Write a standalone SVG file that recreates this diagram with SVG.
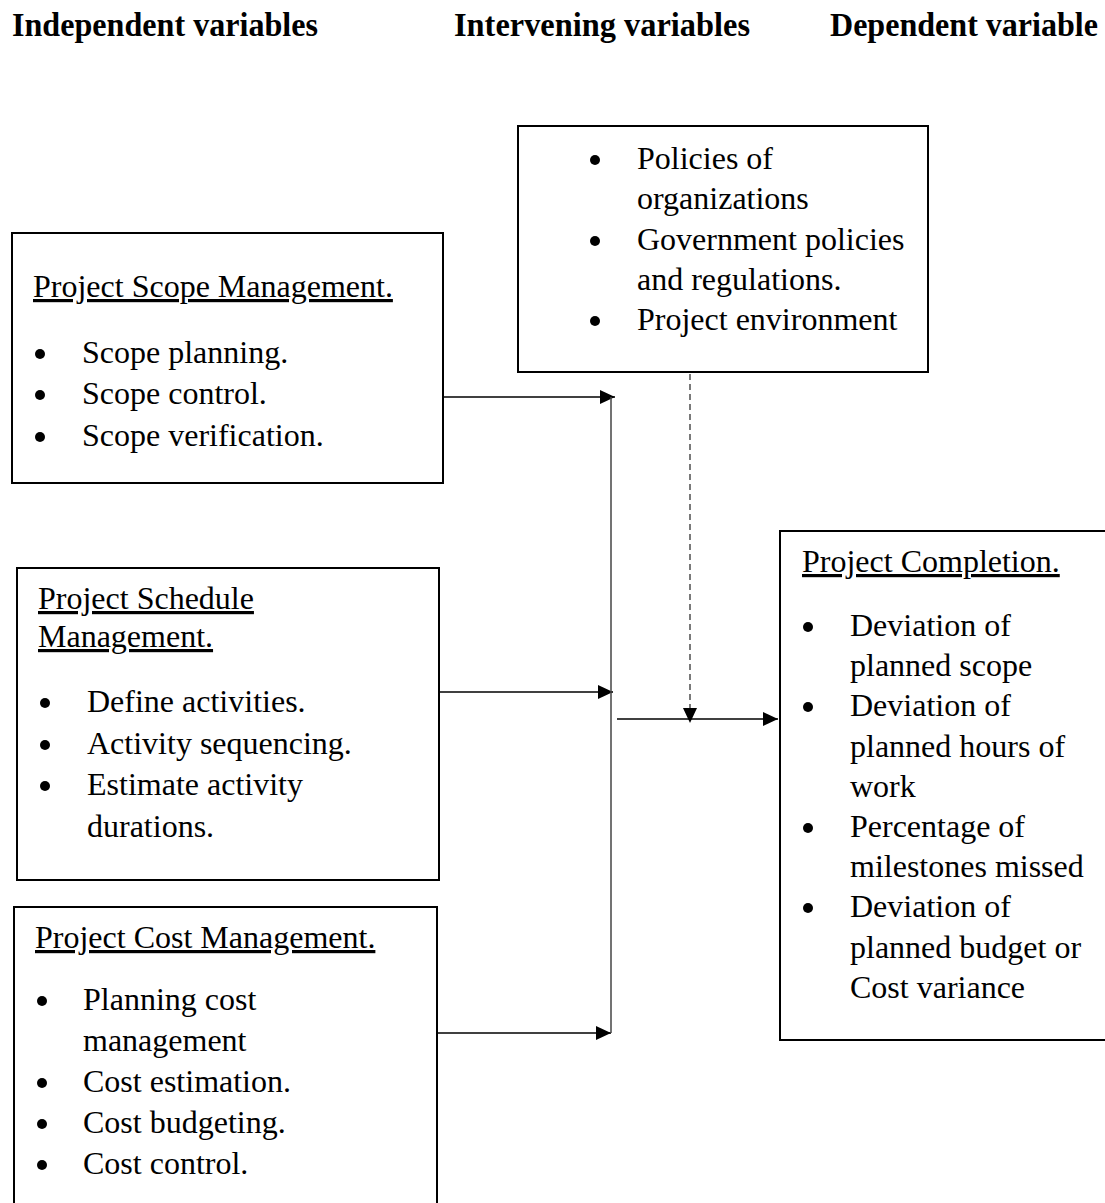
<svg xmlns="http://www.w3.org/2000/svg" width="1105" height="1203" viewBox="0 0 1105 1203">
<style>
text{font-family:"Liberation Serif","Times New Roman",serif;font-size:32px;fill:#000}
.hd{font-weight:bold;font-size:33px}
.ul{text-decoration:underline}
.box{fill:#fff;stroke:#000;stroke-width:2}
.bul{fill:#000}
.con{stroke:#000;stroke-width:1.5;fill:none}
.bus{stroke:#444;stroke-width:1.5;fill:none}
.dash{stroke:#333;stroke-width:1.3;stroke-dasharray:6 4;fill:none}
</style>
<defs>
<marker id="ah" markerUnits="userSpaceOnUse" markerWidth="16" markerHeight="16" refX="15" refY="7" orient="auto">
<path d="M0,0 L15,7 L0,14 z" fill="#000"/>
</marker>
</defs>
<rect width="1105" height="1203" fill="#fff"/>
<g id="headers">
<text class="hd" x="12" y="36" textLength="306" lengthAdjust="spacingAndGlyphs">Independent variables</text>
<text class="hd" x="454" y="36" textLength="296" lengthAdjust="spacingAndGlyphs">Intervening variables</text>
<text class="hd" x="830" y="36" textLength="268" lengthAdjust="spacingAndGlyphs">Dependent variable</text>
</g>
<g id="connectors">
<line class="con" x1="443" y1="397" x2="615" y2="397" marker-end="url(#ah)"/>
<line class="con" x1="440" y1="692" x2="613" y2="692" marker-end="url(#ah)"/>
<line class="con" x1="437" y1="1033" x2="611" y2="1033" marker-end="url(#ah)"/>
<line class="bus" x1="611" y1="397" x2="611" y2="1033"/>
<line class="con" x1="617" y1="719" x2="778" y2="719" marker-end="url(#ah)"/>
<line class="dash" x1="690" y1="374" x2="690" y2="723" marker-end="url(#ah)"/>
</g>
<g id="intervening">
<rect class="box" x="518" y="126" width="410" height="246"/>
<circle class="bul" cx="595" cy="160" r="5"/>
<circle class="bul" cx="595" cy="241" r="5"/>
<circle class="bul" cx="595" cy="321" r="5"/>
<text x="637" y="169">Policies of</text>
<text x="637" y="209">organizations</text>
<text x="637" y="250">Government policies</text>
<text x="637" y="290">and regulations.</text>
<text x="637" y="330">Project environment</text>
</g>
<g id="scope">
<rect class="box" x="12" y="233" width="431" height="250"/>
<text class="ul" x="33" y="297">Project Scope Management.</text>
<circle class="bul" cx="40" cy="354" r="5"/>
<circle class="bul" cx="40" cy="395" r="5"/>
<circle class="bul" cx="40" cy="437" r="5"/>
<text x="82" y="363">Scope planning.</text>
<text x="82" y="404">Scope control.</text>
<text x="82" y="446">Scope verification.</text>
</g>
<g id="schedule">
<rect class="box" x="17" y="568" width="422" height="312"/>
<text class="ul" x="38" y="609">Project Schedule</text>
<text class="ul" x="38" y="647">Management.</text>
<circle class="bul" cx="45" cy="703" r="5"/>
<circle class="bul" cx="45" cy="745" r="5"/>
<circle class="bul" cx="45" cy="786" r="5"/>
<text x="87" y="712">Define activities.</text>
<text x="87" y="754">Activity sequencing.</text>
<text x="87" y="795">Estimate activity</text>
<text x="87" y="837">durations.</text>
</g>
<g id="cost">
<rect class="box" x="14" y="907" width="423" height="320"/>
<text class="ul" x="35" y="948">Project Cost Management.</text>
<circle class="bul" cx="42" cy="1001" r="5"/>
<circle class="bul" cx="42" cy="1083" r="5"/>
<circle class="bul" cx="42" cy="1124" r="5"/>
<circle class="bul" cx="42" cy="1165" r="5"/>
<text x="83" y="1010">Planning cost</text>
<text x="83" y="1051">management</text>
<text x="83" y="1092">Cost estimation.</text>
<text x="83" y="1133">Cost budgeting.</text>
<text x="83" y="1174">Cost control.</text>
</g>
<g id="completion">
<rect class="box" x="780" y="531" width="345" height="509"/>
<text class="ul" x="802" y="572">Project Completion.</text>
<circle class="bul" cx="808" cy="627" r="5"/>
<circle class="bul" cx="808" cy="707" r="5"/>
<circle class="bul" cx="808" cy="828" r="5"/>
<circle class="bul" cx="808" cy="908" r="5"/>
<text x="850" y="636">Deviation of</text>
<text x="850" y="676">planned scope</text>
<text x="850" y="716">Deviation of</text>
<text x="850" y="757">planned hours of</text>
<text x="850" y="797">work</text>
<text x="850" y="837">Percentage of</text>
<text x="850" y="877">milestones missed</text>
<text x="850" y="917">Deviation of</text>
<text x="850" y="958">planned budget or</text>
<text x="850" y="998">Cost variance</text>
</g>
</svg>
